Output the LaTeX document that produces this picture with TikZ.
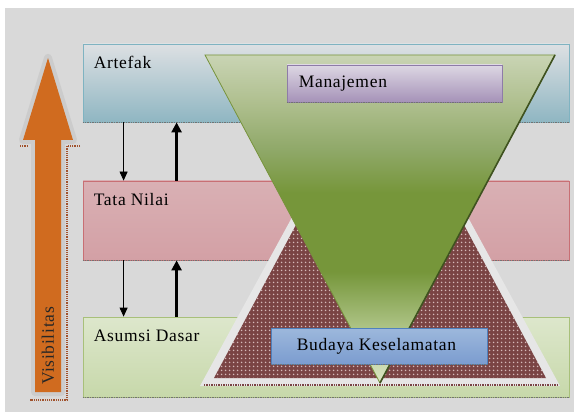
\documentclass[tikz,border=0pt]{standalone}
\usepackage{fontspec}
\setmainfont{Liberation Serif}
\newfontfamily\lbfont[LetterSpace=4]{Liberation Serif}
\usetikzlibrary{arrows.meta,patterns.meta}
\definecolor{bg}{HTML}{D9D9D9}
\definecolor{artT}{HTML}{DDE0E3}
\definecolor{artM}{HTML}{C4D4DA}
\definecolor{artB}{HTML}{8FB6C2}
\definecolor{artD}{HTML}{7FB3C1}
\definecolor{tnT}{HTML}{D9B0B4}
\definecolor{tnM}{HTML}{E0C4C7}
\definecolor{tnB}{HTML}{D3A0A5}
\definecolor{tnD}{HTML}{C86F74}
\definecolor{adT}{HTML}{DDE7CC}
\definecolor{adB}{HTML}{C7D8AA}
\definecolor{adD}{HTML}{A8C07A}
\definecolor{mnT}{HTML}{DDD7E3}
\definecolor{mnB}{HTML}{A592B8}
\definecolor{mnD}{HTML}{8E7CA8}
\definecolor{bkT}{HTML}{9DB8DC}
\definecolor{bkM}{HTML}{D4DCEA}
\definecolor{bkB}{HTML}{7B9CCF}
\definecolor{bkD}{HTML}{4F81BD}
\definecolor{g1}{HTML}{C9D4B4}
\definecolor{g2}{HTML}{B0C090}
\definecolor{g3}{HTML}{8FA868}
\definecolor{g4}{HTML}{76963A}
\definecolor{g5}{HTML}{B0C68A}
\definecolor{g6}{HTML}{D9E5C4}
\definecolor{gedge}{HTML}{77933C}
\definecolor{gdark}{HTML}{3F5220}
\definecolor{pyrbase}{HTML}{7A4444}
\definecolor{pyrdot}{HTML}{E2CACA}
\definecolor{pyrhalo}{HTML}{E6E6E6}
\definecolor{orng}{HTML}{D06B1F}
\definecolor{halo}{HTML}{CCCCCC}
\definecolor{dotred}{HTML}{A0522D}
\pgfdeclareverticalshading{greentri}{100bp}{color(0bp)=(g6); color(25bp)=(g6); color(33bp)=(g5); color(42bp)=(g4); color(54bp)=(g4); color(60.5bp)=(g3); color(68bp)=(g2); color(75bp)=(g1); color(100bp)=(g1)}
\tikzdeclarepattern{
  name=pyrdots,
  type=uncolored,
  bounding box={(0pt,0pt) and (4pt,4pt)},
  tile size={(4pt,4pt)},
  code={\fill (1pt,1.6pt) rectangle (3pt,2.4pt); \fill (1.6pt,1pt) rectangle (2.4pt,3pt);}
}
\begin{document}
\begin{tikzpicture}[x=1pt,y=-1pt,
  layerbox/.style={rectangle, minimum width=486pt, inner sep=0pt, line width=0.8pt},
  smallbox/.style={rectangle, inner sep=0pt, line width=0.8pt},
  lbl/.style={anchor=west, inner sep=0pt, font=\lbfont\fontsize{17.5}{20}\selectfont, text=black},
  shadowline/.style={densely dotted, line width=1.4pt, black!55},
  thinarr/.style={line width=0.8pt, -{Triangle[width=8pt,length=9pt]}},
  thickarr/.style={line width=2.4pt, -{Triangle[width=10pt,length=10pt]}}
]
\useasboundingbox (0,0) rectangle (574,412);
\fill[white] (0,0) rectangle (574,412);
\fill[bg] (5,8) rectangle (574,412);

% layer boxes
\node[layerbox, minimum height=78pt, top color=artT, middle color=artM, bottom color=artB, draw=artD] (art) at (326,83) {};
\node[layerbox, minimum height=79pt, top color=tnT, middle color=tnM, bottom color=tnB, draw=tnD] (tata) at (326,220.5) {};
\node[layerbox, minimum height=80pt, top color=adT, bottom color=adB, draw=adD] (asm) at (326,357) {};
\draw[shadowline] (art.south west) -- (art.south east);
\draw[shadowline] (tata.south west) -- (tata.south east);
\draw[shadowline] (asm.south west) -- (asm.south east);

\node[lbl] (artl) at ([shift={(11pt,-19pt)}]art.north west) {Artefak};
\node[lbl] (tatal) at ([shift={(11pt,-19pt)}]tata.north west) {Tata Nilai};
\node[lbl] (asml) at ([shift={(11pt,-19pt)}]asm.north west) {Asumsi Dasar};

% arrows between layers
\draw[thinarr] ([xshift=41pt]art.south west) -- ([xshift=41pt]tata.north west);
\draw[thickarr] ([xshift=94pt]tata.north west) -- ([xshift=94pt]art.south west);
\draw[thinarr] ([xshift=41pt]tata.south west) -- ([xshift=41pt]asm.north west);
\draw[thickarr] ([xshift=94pt]asm.north west) -- ([xshift=94pt]tata.south west);

% pyramid
\fill[pyrhalo] (380,56) -- (560,386) -- (200,386) -- cycle;
\fill[pyrbase] (380,68) -- (546,378) -- (214,378) -- cycle;
\fill[pattern=pyrdots, pattern color=pyrdot] (380,68) -- (546,378) -- (214,378) -- cycle;
\draw[densely dotted, line width=1.4pt, pyrbase] (204,385) -- (558,385);

% inverted green triangle
\shade[shading=greentri, draw=gedge, line width=0.8pt] (205,55) -- (555,55) -- (380,383) -- cycle;
\draw[gdark, line width=1.6pt] (555,55) -- (380,383);

% Manajemen
\node[smallbox, minimum width=215pt, minimum height=37pt, top color=mnT, bottom color=mnB, draw=mnD] (man) at (394.5,83.5) {};
\draw[shadowline] (man.south west) -- (man.south east);
\node[lbl] (manl) at ([xshift=12pt]man.west) {Manajemen};

% Budaya Keselamatan
\node[smallbox, minimum width=216pt, minimum height=36pt, top color=bkT, middle color=bkM, bottom color=bkB, draw=bkD] (bk) at (379,346) {};
\draw[shadowline] (bk.south west) -- (bk.south east);
\node[lbl] (bkl) at ([xshift=26pt]bk.west) {Budaya Keselamatan};

% Visibilitas arrow
\draw[dotred, densely dotted, line width=1.2pt] (20,146) -- (27,146);
\draw[dotred, densely dotted, line width=1.2pt] (80,146) -- (67,146) -- (67,400) -- (30,400);
\draw[halo, line width=8pt, line join=round] (48,58) -- (73,140) -- (61,140) -- (61,392) -- (35,392) -- (35,140) -- (23,140) -- cycle;
\fill[orng] (48,58) -- (73,140) -- (61,140) -- (61,392) -- (35,392) -- (35,140) -- (23,140) -- cycle;
\node[rotate=90, inner sep=0pt, font=\lbfont\fontsize{17.5}{20}\selectfont, text=black!85] (vis) at (48,346) {Visibilitas};
\end{tikzpicture}
\end{document}
